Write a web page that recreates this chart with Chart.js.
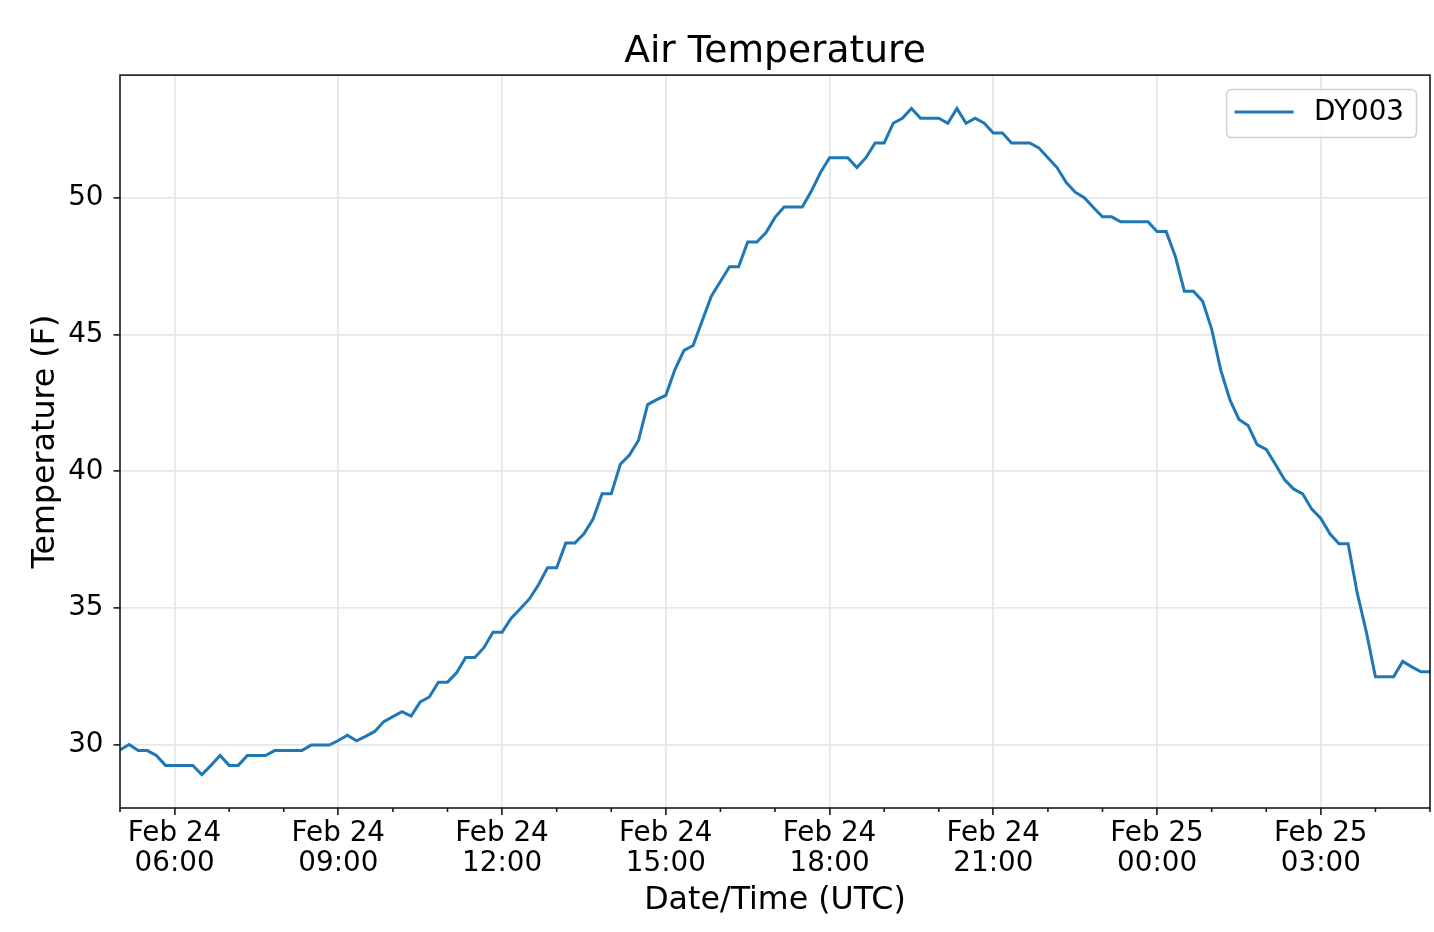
<!DOCTYPE html>
<html>
<head>
<meta charset="utf-8">
<title>Air Temperature</title>
<script src="https://cdn.jsdelivr.net/npm/chart.js@4.4.1/dist/chart.umd.min.js"></script>
<style>
  html, body { margin: 0; padding: 0; background: #fff; }
  #wrap { width: 1434px; height: 932px; }
</style>
</head>
<body>
<div id="wrap"><canvas id="airTemp"></canvas></div>
<script>
// series / time base
var seriesName = 'DY003';
var monthName = 'Feb';
var firstDay = 24;      // first reading: Feb 24, 05:00 UTC
var startHour = 5;
var stepMinutes = 10;   // one reading every 10 minutes

// air temperature (F), one value per reading
var tempF = [
  29.82, 30.02, 29.80, 29.80, 29.62, 29.26, 29.26, 29.26, 29.26, 28.92,
  29.26, 29.62, 29.26, 29.26, 29.62, 29.62, 29.62, 29.80, 29.80, 29.80,
  29.80, 30.00, 30.00, 30.00, 30.17, 30.36, 30.16, 30.32, 30.50, 30.86,
  31.04, 31.22, 31.06, 31.58, 31.76, 32.30, 32.30, 32.64, 33.20, 33.20,
  33.56, 34.12, 34.12, 34.64, 34.98, 35.34, 35.86, 36.48, 36.48, 37.38,
  37.38, 37.72, 38.26, 39.18, 39.18, 40.26, 40.60, 41.14, 42.44, 42.62,
  42.78, 43.72, 44.42, 44.60, 45.50, 46.40, 46.94, 47.48, 47.48, 48.38,
  48.38, 48.72, 49.28, 49.66, 49.66, 49.66, 50.24, 50.92, 51.46, 51.46,
  51.46, 51.10, 51.46, 52.00, 52.00, 52.72, 52.90, 53.26, 52.90, 52.90,
  52.90, 52.72, 53.26, 52.72, 52.90, 52.72, 52.36, 52.36, 52.00, 52.00,
  52.00, 51.82, 51.46, 51.10, 50.56, 50.20, 50.00, 49.64, 49.30, 49.30,
  49.12, 49.12, 49.12, 49.12, 48.76, 48.76, 47.86, 46.58, 46.58, 46.22,
  45.20, 43.70, 42.62, 41.90, 41.68, 40.98, 40.80, 40.26, 39.70, 39.36,
  39.18, 38.62, 38.28, 37.72, 37.36, 37.36, 35.56, 34.14, 32.50, 32.50,
  32.50, 33.06, 32.86, 32.68, 32.68
];

var yTicks = [30, 35, 40, 45, 50];
var majorEvery = 3;     // hours between labelled x ticks

var FONT = 'DejaVu Sans';
var TICK_SIZE = 27.8;
Chart.defaults.font.family = FONT;
Chart.defaults.color = '#000';

var endHour = startHour + (tempF.length - 1) * stepMinutes / 60;
var points = tempF.map(function (t, i) {
  return { x: startHour + i * stepMinutes / 60, y: t };
});

// matplotlib-like 5% margin on y
var lo = Math.min.apply(null, tempF);
var hi = Math.max.apply(null, tempF);
var yPad = (hi - lo) * 0.05;

function isMajor(h) {
  return h % majorEvery === 0 && h > startHour && h < endHour;
}

function timeLabel(h) {
  var day = firstDay + Math.floor(h / 24);
  var hh = h % 24;
  return [monthName + ' ' + day, (hh < 10 ? '0' : '') + hh + ':00'];
}

// legend box in the upper right of the plot, like matplotlib's
var boxLegend = {
  id: 'boxLegend',
  afterDatasetsDraw: function (chart) {
    var ctx = chart.ctx, area = chart.chartArea;
    var ds = chart.data.datasets[0];
    ctx.save();
    ctx.font = TICK_SIZE + 'px "' + FONT + '"';
    var tw = ctx.measureText(ds.label).width;
    var w = 8 + 59 + 20 + tw + 13, h = 48;
    var x = area.right - 13.5 - w, y = area.top + 14.5;
    ctx.beginPath();
    ctx.roundRect(x, y, w, h, 5);
    ctx.fillStyle = 'rgba(255,255,255,0.85)';
    ctx.fill();
    ctx.strokeStyle = '#d0d0d0';
    ctx.lineWidth = 1.5;
    ctx.stroke();
    ctx.beginPath();
    ctx.moveTo(x + 8, y + 22.5);
    ctx.lineTo(x + 67, y + 22.5);
    ctx.strokeStyle = ds.borderColor;
    ctx.lineWidth = ds.borderWidth;
    ctx.stroke();
    ctx.fillStyle = '#000';
    ctx.textBaseline = 'middle';
    ctx.fillText(ds.label, x + 87.5, y + 23);
    ctx.restore();
  }
};

// frame on all four sides plus the short hourly (minor) ticks
var frameAndMinor = {
  id: 'frameAndMinor',
  afterDraw: function (chart) {
    var ctx = chart.ctx, a = chart.chartArea, xs = chart.scales.x;
    ctx.save();
    ctx.strokeStyle = '#1a1a1a';
    ctx.lineWidth = 1.6;
    ctx.beginPath();
    for (var h = Math.ceil(startHour); h <= endHour; h++) {
      if (isMajor(h)) continue;
      var px = xs.getPixelForValue(h);
      ctx.moveTo(px, a.bottom);
      ctx.lineTo(px, a.bottom + 4);
    }
    ctx.stroke();
    ctx.strokeRect(a.left, a.top, a.right - a.left, a.bottom - a.top);
    ctx.restore();
  }
};

var ctx = document.getElementById('airTemp').getContext('2d');
var chart = new Chart(ctx, {
  type: 'line',
  data: {
    datasets: [{
      label: seriesName,
      data: points,
      borderColor: '#1f77b4',
      borderWidth: 3,
      pointRadius: 0,
      tension: 0,
      fill: false
    }]
  },
  options: {
    responsive: true,
    maintainAspectRatio: false,
    animation: false,
    layout: { padding: { left: 0, right: 4, top: 0, bottom: 0 } },
    plugins: {
      legend: { display: false },
      tooltip: { enabled: false },
      title: {
        display: true,
        fullSize: false,   // centre over the plot area, not the canvas
        text: 'Air Temperature',
        font: { size: 37.6, weight: 'normal' },
        color: '#000',
        padding: { top: 30, bottom: 0 }
      }
    },
    scales: {
      x: {
        type: 'linear',
        min: startHour,
        max: endHour,
        afterBuildTicks: function (s) {
          var t = [];
          for (var h = Math.ceil(startHour); h <= endHour; h++) t.push({ value: h });
          s.ticks = t;
        },
        afterFit: function (s) { s.height = 124; },
        border: { display: false },
        grid: {
          color: function (c) { return c.tick && isMajor(c.tick.value) ? '#e8e8e8' : 'rgba(0,0,0,0)'; },
          lineWidth: 1.8,
          tickLength: 7,
          tickWidth: 1.6,
          tickColor: function (c) { return c.tick && isMajor(c.tick.value) ? '#1a1a1a' : 'rgba(0,0,0,0)'; }
        },
        ticks: {
          autoSkip: false,
          maxRotation: 0,
          padding: 3,
          font: { size: TICK_SIZE, lineHeight: 1.1 },
          color: '#000',
          callback: function (v) { return isMajor(v) ? timeLabel(v) : ''; }
        },
        title: {
          display: true,
          text: 'Date/Time (UTC)',
          font: { size: 31.7 },
          color: '#000',
          padding: { top: 0, bottom: 12 }
        }
      },
      y: {
        min: lo - yPad,
        max: hi + yPad,
        afterBuildTicks: function (s) {
          s.ticks = yTicks.map(function (v) { return { value: v }; });
        },
        afterFit: function (s) { s.width = 120; },
        border: { display: false },
        grid: {
          color: '#e8e8e8',
          lineWidth: 1.8,
          tickLength: 6.5,
          tickWidth: 1.6,
          tickColor: '#1a1a1a'
        },
        ticks: {
          padding: 10,
          font: { size: TICK_SIZE },
          color: '#000'
        },
        title: {
          display: true,
          text: 'Temperature (F)',
          font: { size: 31.7 },
          color: '#000',
          padding: { top: 27, bottom: 0 }
        }
      }
    }
  },
  plugins: [boxLegend, frameAndMinor]
});
</script>
</body>
</html>
